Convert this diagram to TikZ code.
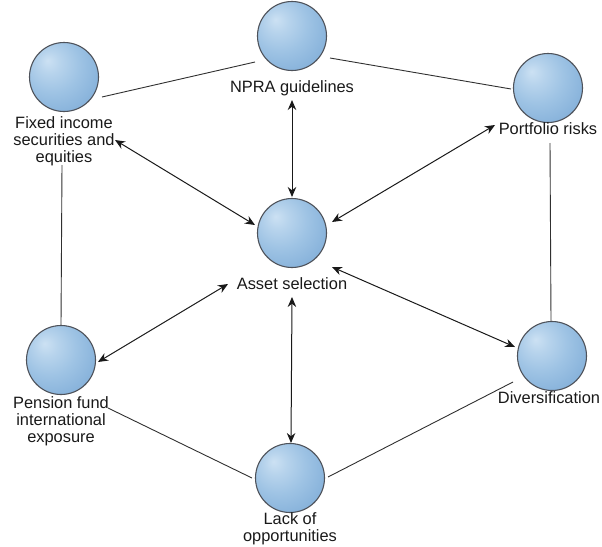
\documentclass[tikz,border=0pt]{standalone}
\usepackage{fontspec}
\setmainfont{Liberation Sans}
\usetikzlibrary{arrows.meta,calc}

\definecolor{sphhi}{RGB}{204,225,243}
\definecolor{sphmid}{RGB}{158,195,228}
\definecolor{sphbase}{RGB}{124,170,214}
\definecolor{sphedge}{RGB}{92,140,190}
\definecolor{sphline}{RGB}{78,82,90}
\definecolor{ink}{RGB}{25,25,25}

\pgfdeclareradialshading{sphereshade}{\pgfpoint{-12bp}{12bp}}{%
  color(0bp)=(sphhi); color(8bp)=(sphhi!55!sphmid); color(20bp)=(sphmid);
  color(40bp)=(sphbase); color(58bp)=(sphedge); color(70bp)=(sphedge)}

\begin{document}
\begin{tikzpicture}[x=1pt,y=-1pt,
  sphere/.style={circle,minimum size=69pt,inner sep=0pt,draw=sphline,
    line width=1.1pt,shading=sphereshade},
  lbl/.style={align=center,inner sep=0pt,text=ink,
    font=\fontsize{16.4}{16.8}\selectfont},
  link/.style={draw=ink!90,line width=0.9pt},
  biarrow/.style={draw=ink,line width=1pt,
    {Stealth[length=10pt,width=8.5pt]}-{Stealth[length=10pt,width=8.5pt]}}]

\useasboundingbox (0,0) rectangle (602,546);

% the seven spheres
\node[sphere] (npra)  at (292,36)  {};
\node[sphere] (fixed) at (64,77)   {};
\node[sphere] (port)  at (548,88)  {};
\node[sphere] (asset) at (292,233) {};
\node[sphere] (pens)  at (61,360)  {};
\node[sphere] (div)   at (552,356) {};
\node[sphere] (lack)  at (290,478) {};

% their captions
\node[lbl] (npralbl)  at (292,88)  {NPRA guidelines};
\node[lbl] (fixedlbl) at (64,141)  {Fixed income\\securities and\\equities};
\node[lbl] (portlbl)  at (548,129) {Portfolio risks};
\node[lbl] (assetlbl) at (292,284) {Asset selection};
\node[lbl] (penslbl)  at (61,421)  {Pension fund\\international\\exposure};
\node[lbl] (divlbl)   at (549,398) {Diversification};
\node[lbl] (lacklbl)  at (290,529) {Lack of\\opportunities};

% outer ring of plain links
\draw[link] ($(fixed)+(38,20)$) -- ($(npra)+(-37,26)$);
\draw[link] ($(npra)+(38,22)$)  -- ($(port)+(-37,1)$);
\draw[link] ($(fixed)+(-2,88)$) -- ($(pens)+(0,-35)$);
\draw[link] ($(port)+(2,55)$)   -- ($(div)+(-1,-35)$);
\draw[link] ($(pens)+(47,48)$)  -- ($(lack)+(-38,0)$);
\draw[link] ($(lack)+(38,-1)$)  -- ($(div)+(-39,26)$);

% two-way arrows to the hub
\draw[biarrow] ($(npra)+(0,64)$)    -- ($(asset)+(0,-36)$);
\draw[biarrow] ($(fixed)+(51,63)$)  -- ($(asset)+(-37,-8)$);
\draw[biarrow] ($(port)+(-53,37)$)  -- ($(asset)+(40,-11)$);
\draw[biarrow] ($(asset)+(-64,51)$) -- ($(pens)+(37,2)$);
\draw[biarrow] ($(asset)+(40,34)$)  -- ($(div)+(-37,-9)$);
\draw[biarrow] ($(asset)+(0,64)$)   -- ($(lack)+(1,-35)$);

\end{tikzpicture}
\end{document}
